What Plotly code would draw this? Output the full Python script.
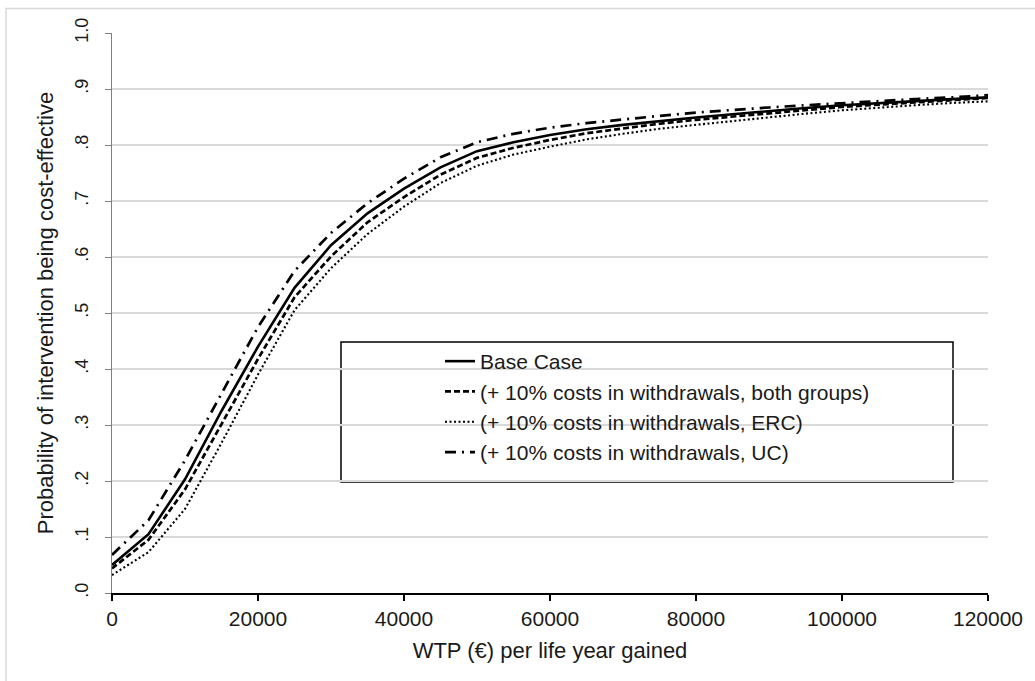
import plotly.graph_objects as go

# ---- data ----
wtp = [0, 5000, 10000, 15000, 20000, 25000, 30000, 35000, 40000, 45000, 50000,
       55000, 60000, 65000, 70000, 75000, 80000, 85000, 90000, 95000, 100000,
       105000, 110000, 115000, 120000]

base_case = [0.050, 0.105, 0.203, 0.325, 0.440, 0.545, 0.621, 0.678, 0.722, 0.760, 0.789,
             0.805, 0.818, 0.828, 0.836, 0.843, 0.849, 0.855, 0.861, 0.866, 0.871,
             0.875, 0.879, 0.882, 0.885]

both_groups = [0.044, 0.095, 0.185, 0.302, 0.418, 0.528, 0.601, 0.662, 0.707, 0.747, 0.777,
               0.795, 0.809, 0.821, 0.830, 0.838, 0.845, 0.851, 0.857, 0.863, 0.868,
               0.872, 0.876, 0.880, 0.884]

erc = [0.032, 0.073, 0.150, 0.268, 0.390, 0.505, 0.580, 0.641, 0.690, 0.732, 0.763,
       0.783, 0.797, 0.810, 0.820, 0.829, 0.836, 0.843, 0.849, 0.856, 0.862,
       0.867, 0.871, 0.875, 0.878]

uc = [0.068, 0.130, 0.237, 0.357, 0.475, 0.575, 0.643, 0.696, 0.740, 0.778, 0.805,
      0.820, 0.831, 0.839, 0.846, 0.852, 0.858, 0.863, 0.867, 0.871, 0.875,
      0.879, 0.882, 0.885, 0.889]

series_names = ["Base Case",
                "(+ 10% costs in withdrawals, both groups)",
                "(+ 10% costs in withdrawals, ERC)",
                "(+ 10% costs in withdrawals, UC)"]

y_tick_vals = [0, 0.1, 0.2, 0.3, 0.4, 0.5, 0.6, 0.7, 0.8, 0.9, 1.0]
y_tick_text = [".0", ".1", ".2", ".3", ".4", ".5", ".6", ".7", ".8", ".9", "1.0"]
x_tick_vals = [0, 20000, 40000, 60000, 80000, 100000, 120000]

# ---- layout geometry (pixels) ----
W, H = 1035, 681
L, R, T, B = 112, 47, 33, 88
PW, PH = W - L - R, H - T - B


def px_x(p):
    return (p - L) / PW


def px_y(p):
    return (H - B - p) / PH


FONT = "Liberation Sans, Arial, sans-serif"
TXT = "#1a1a1a"
FS = 21

styles = [
    dict(color="black", width=2.6, dash="solid"),
    dict(color="black", width=2.7, dash="6px,3px"),
    dict(color="black", width=2.1, dash="2px,2.5px"),
    dict(color="black", width=2.7, dash="11px,6px,2px,6px"),
]

fig = go.Figure()
for name, ys, st, g in zip(series_names, [base_case, both_groups, erc, uc], styles, "abcd"):
    fig.add_trace(go.Scatter(x=wtp, y=ys, mode="lines", name=name, line=st,
                             legendgroup=g))

fig.update_layout(
    width=W, height=H,
    margin=dict(l=L, r=R, t=T, b=B, pad=0),
    paper_bgcolor="white", plot_bgcolor="white",
    font=dict(family=FONT, size=FS, color=TXT),
    showlegend=True,
    legend=dict(
        x=px_x(440), y=px_y(341), xanchor="left", yanchor="top",
        bgcolor="rgba(0,0,0,0)", borderwidth=0,
        font=dict(family=FONT, size=FS, color=TXT),
        tracegroupgap=0,
    ),
    xaxis=dict(
        range=[0, 120000], tickvals=x_tick_vals, tickformat="d",
        showgrid=False, zeroline=False,
        showline=True, linecolor="black", linewidth=2,
        ticks="outside", ticklen=6, tickwidth=2, tickcolor="black",
        tickfont=dict(family=FONT, size=FS, color=TXT),
        title=dict(text="WTP (€) per life year gained", standoff=13,
                   font=dict(family=FONT, size=22, color=TXT)),
    ),
    yaxis=dict(
        range=[0, 1], tickvals=y_tick_vals, ticktext=y_tick_text, tickangle=-90,
        showgrid=True, gridcolor="#d9d9d9", gridwidth=1.5, zeroline=False,
        showline=True, linecolor="#7f7f7f", linewidth=1.3,
        ticks="outside", ticklen=6, tickwidth=1.3, tickcolor="#7f7f7f",
        ticklabelstandoff=10,
        tickfont=dict(family=FONT, size=18, color=TXT),
        title=dict(text="Probability of intervention being cost-effective", standoff=11,
                   font=dict(family=FONT, size=22, color=TXT)),
    ),
    shapes=[
        # legend frame
        dict(type="rect", xref="paper", yref="paper",
             x0=px_x(341), x1=px_x(953), y0=px_y(482), y1=px_y(342),
             line=dict(color="black", width=1.5), fillcolor="white", layer="below"),
        # outer chart frame
        dict(type="rect", xref="paper", yref="paper",
             x0=px_x(6), x1=px_x(1060), y0=px_y(700), y1=px_y(8.5),
             line=dict(color="#d9d9d9", width=1.5), fillcolor="rgba(0,0,0,0)",
             layer="below"),
    ],
)

fig.write_html("out.html")
